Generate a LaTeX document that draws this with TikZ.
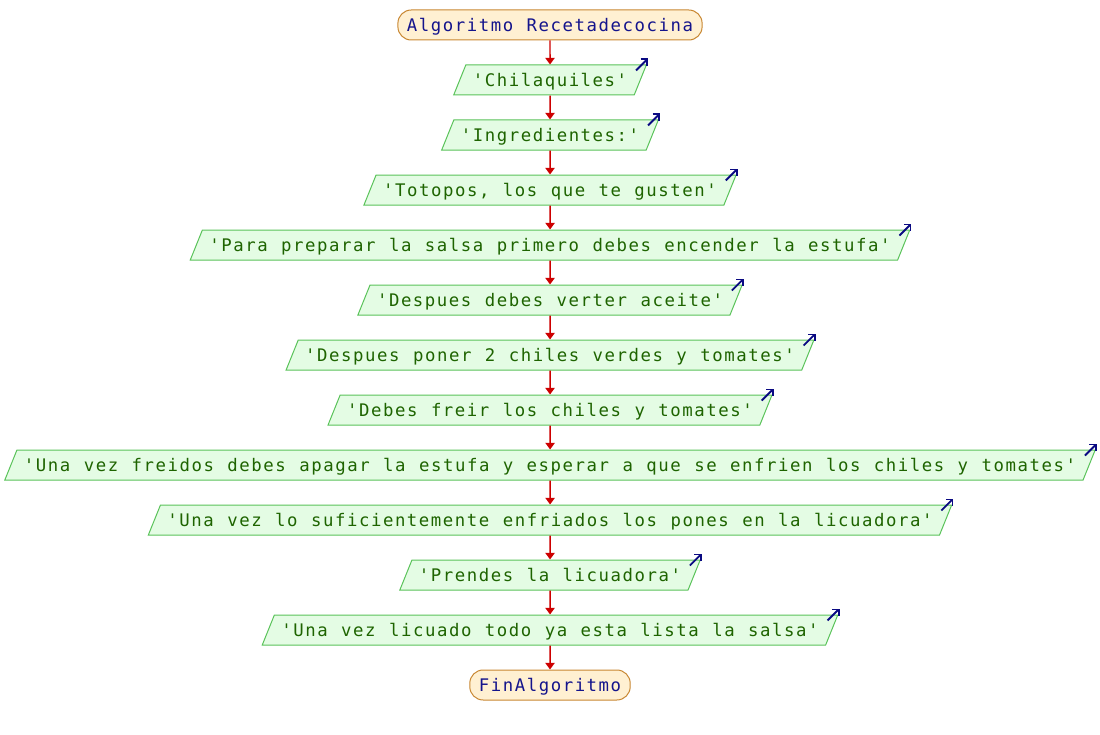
\documentclass[tikz,border=0pt]{standalone}
\usepackage{fontspec}
\setmonofont{DejaVu Sans Mono}[LetterSpace=9.0,WordSpace=1.12]
\usetikzlibrary{shapes.geometric,arrows.meta}
\definecolor{termfill}{RGB}{255,240,210}
\definecolor{termline}{RGB}{200,135,50}
\definecolor{termtext}{RGB}{20,20,140}
\definecolor{outfill}{RGB}{228,252,228}
\definecolor{outline}{RGB}{90,195,90}
\definecolor{outtext}{RGB}{30,100,0}
\definecolor{flowred}{RGB}{205,0,0}
\definecolor{iconblue}{RGB}{10,10,130}
\begin{document}
\begin{tikzpicture}[x=0.75pt,y=-0.75pt,
  font=\ttfamily\fontsize{13}{15}\selectfont,
  term/.style={rectangle, rounded corners=10pt, draw=termline, fill=termfill, text=termtext, line width=0.75pt, minimum height=22.5pt, text height=10.8pt, text depth=1pt, inner xsep=6.75pt, inner ysep=0pt},
  outp/.style={trapezium, trapezium left angle=68, trapezium right angle=112, draw=outline, fill=outfill, text=outtext, line width=0.75pt, text height=10.8pt, text depth=1pt, inner xsep=5.25pt, inner ysep=5.35pt},
  flow/.style={draw=flowred, line width=1.1pt, -{Triangle[length=5pt,width=7pt]}},
  icon/.style={draw=iconblue, line width=1.4pt, -{Straight Barb[length=3.5pt,width=7pt]}}]
\useasboundingbox (0,0) rectangle (1100,735);
\node[term] (nid0) at (550,25) {Algoritmo Recetadecocina};
\node[outp] (nid1) at (550,80) {'Chilaquiles'};
\node[outp] (nid2) at (550,135) {'Ingredientes:'};
\node[outp] (nid3) at (550,190) {'Totopos, los que te gusten'};
\node[outp] (nid4) at (550,245) {'Para preparar la salsa primero debes encender la estufa'};
\node[outp] (nid5) at (550,300) {'Despues debes verter aceite'};
\node[outp] (nid6) at (550,355) {'Despues poner 2 chiles verdes y tomates'};
\node[outp] (nid7) at (550,410) {'Debes freir los chiles y tomates'};
\node[outp] (nid8) at (550,465) {'Una vez freidos debes apagar la estufa y esperar a que se enfrien los chiles y tomates'};
\node[outp] (nid9) at (550,520) {'Una vez lo suficientemente enfriados los pones en la licuadora'};
\node[outp] (nid10) at (550,575) {'Prendes la licuadora'};
\node[outp] (nid11) at (550,630) {'Una vez licuado todo ya esta lista la salsa'};
\node[term] (nid12) at (550,685) {FinAlgoritmo};
\draw[flow] (nid0) -- (nid1);
\draw[flow] (nid1) -- (nid2);
\draw[flow] (nid2) -- (nid3);
\draw[flow] (nid3) -- (nid4);
\draw[flow] (nid4) -- (nid5);
\draw[flow] (nid5) -- (nid6);
\draw[flow] (nid6) -- (nid7);
\draw[flow] (nid7) -- (nid8);
\draw[flow] (nid8) -- (nid9);
\draw[flow] (nid9) -- (nid10);
\draw[flow] (nid10) -- (nid11);
\draw[flow] (nid11) -- (nid12);
% output marks
\foreach \n in {1,...,11}
  \draw[icon] ([shift={(-11,6)}]nid\n.top right corner) -- ([shift={(1,-6)}]nid\n.top right corner);
\end{tikzpicture}
\end{document}
